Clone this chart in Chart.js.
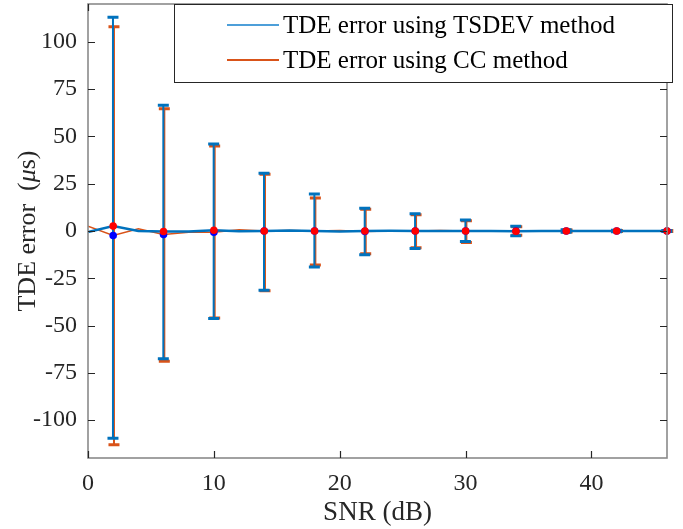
<!DOCTYPE html>
<html>
<head>
<meta charset="utf-8">
<title>TDE error vs SNR</title>
<script src="https://cdn.jsdelivr.net/npm/chart.js"></script>
<style>
  html, body { margin: 0; padding: 0; background: #fff; }
  #wrap { width: 683px; height: 529px; }
</style>
</head>
<body>
<div id="wrap"><canvas id="tdeChart"></canvas></div>
<script>
// connecting lines, every 2 dB
const snrFine = [0, 2, 4, 6, 8, 10, 12, 14, 16, 18, 20, 22, 24, 26, 28, 30, 32, 34, 36, 38, 40, 42, 44, 46];
const tsdevLine = [-0.5, 2.6, 0, -0.3, -0.2, 0.4, -0.1, 0, 0.2, 0, -0.2, 0, 0.1, 0, 0, 0, 0, -0.1, 0, 0, 0, 0, 0, 0];
const ccLine = [2.6, -2.4, 1.2, -1.8, -0.6, -0.6, 0.6, 0, 0.3, 0, 0.2, -0.2, 0, 0, 0.2, 0, 0, 0, 0, 0, 0, 0, 0, 0];

// error bars, every 4 dB
const snrBars = [2, 6, 10, 14, 18, 22, 26, 30, 34, 38, 42, 46];
const tsdevHigh = [113, 66.5, 46, 30.5, 19.5, 12, 9.1, 5.8, 2.5, 0.6, 0.4, 0.3];
const tsdevLow = [-109.5, -67.5, -46.3, -31.3, -19, -12.5, -9.3, -5.6, -2.5, -0.6, -0.4, -0.3];
const ccHigh = [108, 64.6, 45, 30, 17.4, 11.5, 8.6, 5.4, 2.3, 0.5, 0.3, 0.2];
const ccLow = [-113, -68.9, -46, -31.6, -18, -12, -8.8, -6.1, -2.3, -0.5, -0.3, -0.2];
const redMarks = [2.6, -0.3, 0.4, 0, 0, 0, 0, 0, -0.1, 0, 0, 0];
const blueMarks = [-2.4, -1.8, -0.6, 0, 0, -0.2, 0, 0, 0, 0, 0, 0];

const xTicks = [0, 10, 20, 30, 40];
const yTicks = [-100, -75, -50, -25, 0, 25, 50, 75, 100];
const legendLabels = ['TDE error using TSDEV method', 'TDE error using CC method'];

const BLUE = '#0072BD';
const ORANGE = '#D95319';
const SERIF = "'Liberation Serif', 'Times New Roman', serif";

function pts(xs, ys) {
    return xs.map((x, i) => ({ x: x, y: ys[i] }));
}

function drawBars(chart, xs, lo, hi, color, dx) {
    const ctx = chart.ctx, sx = chart.scales.x, sy = chart.scales.y;
    ctx.save();
    ctx.strokeStyle = color;
    xs.forEach((v, i) => {
        const px = sx.getPixelForValue(v) + dx;
        const top = sy.getPixelForValue(hi[i]);
        const bot = sy.getPixelForValue(lo[i]);
        ctx.lineWidth = 2;
        ctx.beginPath();
        ctx.moveTo(px, top); ctx.lineTo(px, bot);
        ctx.stroke();
        ctx.lineWidth = 3;
        ctx.beginPath();
        ctx.moveTo(px - 5.5, top); ctx.lineTo(px + 5.5, top);
        ctx.moveTo(px - 5.5, bot); ctx.lineTo(px + 5.5, bot);
        ctx.stroke();
    });
    ctx.restore();
}

// matlab style frame, error bars, legend and y label
const matlabLook = {
    id: 'matlabLook',
    beforeDatasetsDraw(chart) {
        drawBars(chart, snrBars, ccLow, ccHigh, ORANGE, 0.8);
        drawBars(chart, snrBars, tsdevLow, tsdevHigh, BLUE, -0.2);
    },
    afterDraw(chart) {
        const ctx = chart.ctx, a = chart.chartArea;
        const sx = chart.scales.x, sy = chart.scales.y;
        ctx.save();
        // box
        ctx.strokeStyle = '#8a8a8a';
        ctx.lineWidth = 1.6;
        ctx.strokeRect(a.left, a.top, a.right - a.left, a.bottom - a.top);
        // ticks inside, on all four sides
        ctx.strokeStyle = '#262626';
        ctx.lineWidth = 1.2;
        ctx.beginPath();
        xTicks.forEach(v => {
            const px = Math.round(sx.getPixelForValue(v)) + 0.5;
            ctx.moveTo(px, a.bottom); ctx.lineTo(px, a.bottom - 7);
            ctx.moveTo(px, a.top); ctx.lineTo(px, a.top + 7);
        });
        yTicks.forEach(v => {
            const py = Math.round(sy.getPixelForValue(v)) + 0.5;
            ctx.moveTo(a.left, py); ctx.lineTo(a.left + 7, py);
            ctx.moveTo(a.right, py); ctx.lineTo(a.right - 7, py);
        });
        ctx.stroke();

        // legend
        const lx = 174, ly = a.top, lw = 498, lh = 78;
        ctx.fillStyle = '#fff';
        ctx.fillRect(lx, ly, lw, lh);
        ctx.strokeStyle = '#262626';
        ctx.lineWidth = 1;
        ctx.strokeRect(lx + 0.5, ly + 0.5, lw, lh);
        const colors = ['#4d9fd9', ORANGE];
        const rows = [ly + 21, ly + 56];
        ctx.font = '25px ' + SERIF;
        ctx.textBaseline = 'middle';
        ctx.textAlign = 'left';
        rows.forEach((ry, i) => {
            ctx.strokeStyle = colors[i];
            ctx.lineWidth = 2;
            ctx.beginPath();
            ctx.moveTo(227, ry); ctx.lineTo(279, ry);
            ctx.stroke();
            ctx.fillStyle = '#000';
            ctx.fillText(legendLabels[i], 283, ry + 1);
        });

        // y axis title with italic mu
        const parts = [['TDE error  (', ''], ['\u03bc', 'italic '], ['s)', '']];
        ctx.translate(28, (a.top + a.bottom) / 2);
        ctx.rotate(-Math.PI / 2);
        ctx.textAlign = 'left';
        let total = 0;
        parts.forEach(p => { ctx.font = p[1] + '26px ' + SERIF; total += ctx.measureText(p[0]).width; });
        let cx = -total / 2;
        ctx.fillStyle = '#262626';
        parts.forEach(p => {
            ctx.font = p[1] + '26px ' + SERIF;
            ctx.fillText(p[0], cx, 0);
            cx += ctx.measureText(p[0]).width;
        });
        ctx.restore();
    }
};

new Chart(document.getElementById('tdeChart'), {
    type: 'scatter',
    data: {
        datasets: [
            { data: pts(snrBars, redMarks), pointBackgroundColor: '#ff0000', pointBorderWidth: 0, pointRadius: 3.8, clip: false },
            { data: pts(snrBars, blueMarks), pointBackgroundColor: '#0000ff', pointBorderWidth: 0, pointRadius: 3.8, clip: false },
            { data: pts(snrFine, tsdevLine), showLine: true, borderColor: BLUE, borderWidth: 2.5, pointRadius: 0 },
            { data: pts(snrFine, ccLine), showLine: true, borderColor: ORANGE, borderWidth: 1.5, pointRadius: 0 }
        ]
    },
    options: {
        responsive: true,
        maintainAspectRatio: false,
        animation: false,
        layout: { padding: { top: 2, right: 16, left: 0, bottom: 0 } },
        plugins: { legend: { display: false }, tooltip: { enabled: false } },
        scales: {
            x: {
                type: 'linear', min: 0, max: 46,
                grid: { display: false }, border: { display: false },
                afterBuildTicks: s => { s.ticks = xTicks.map(v => ({ value: v })); },
                afterFit: s => { s.height = 71; s.paddingLeft = 0; s.paddingRight = 0; },
                ticks: { color: '#262626', padding: 3, maxRotation: 0, font: { family: SERIF, size: 24 } },
                title: { display: true, text: 'SNR (dB)', color: '#262626', padding: 0, font: { family: SERIF, size: 27 } }
            },
            y: {
                type: 'linear', min: -120, max: 120,
                grid: { display: false }, border: { display: false },
                afterBuildTicks: s => { s.ticks = yTicks.map(v => ({ value: v })); },
                afterFit: s => { s.width = 88; s.paddingTop = 0; s.paddingBottom = 0; },
                ticks: { color: '#262626', padding: 3, font: { family: SERIF, size: 24 } }
            }
        }
    },
    plugins: [matlabLook]
});
</script>
</body>
</html>
